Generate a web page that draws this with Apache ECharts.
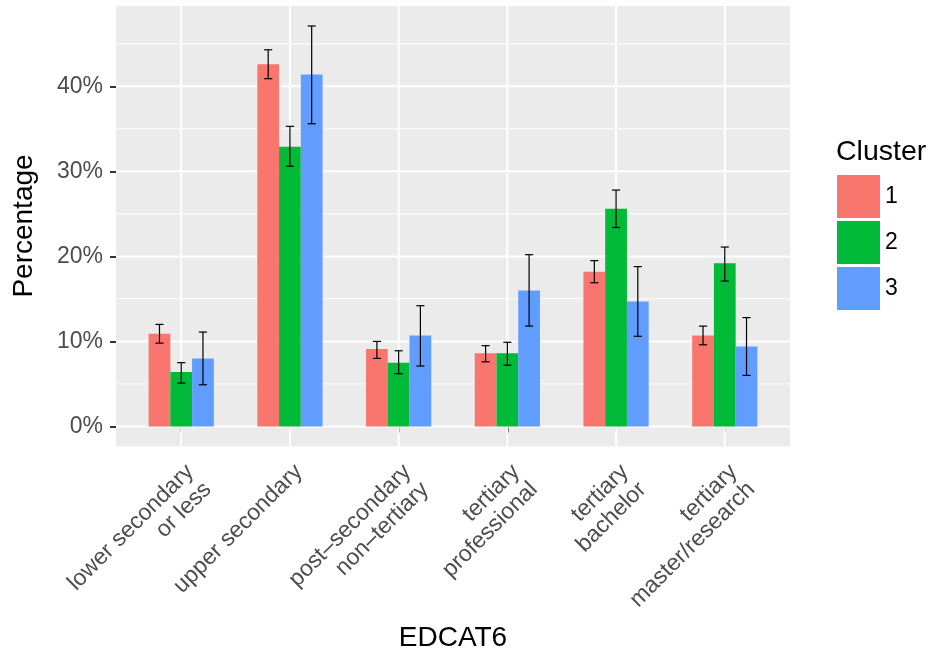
<!DOCTYPE html>
<html>
<head>
<meta charset="utf-8">
<script src="https://cdn.jsdelivr.net/npm/echarts@6/dist/echarts.min.js"></script>
<style>
html,body{margin:0;padding:0;background:#fff;}
#chart{width:930px;height:653px;}
</style>
</head>
<body>
<div id="chart"></div>
<script>
// ---- data ----
const categories = ['lower secondary\nor less', 'upper secondary', 'post\u2013secondary\nnon\u2013tertiary', 'tertiary\nprofessional', 'tertiary\nbachelor', 'tertiary\nmaster/research'];
const clusterNames = ['1', '2', '3'];
const cluster1 = [10.9, 42.6, 9.1, 8.6, 18.2, 10.7];
const cluster1Low = [9.8, 40.9, 8.0, 7.6, 16.9, 9.6];
const cluster1High = [12.0, 44.3, 10.0, 9.5, 19.5, 11.8];
const cluster2 = [6.4, 32.9, 7.5, 8.6, 25.6, 19.2];
const cluster2Low = [5.1, 30.6, 6.2, 7.2, 23.4, 17.1];
const cluster2High = [7.5, 35.3, 8.9, 9.9, 27.8, 21.1];
const cluster3 = [8.0, 41.4, 10.7, 16.0, 14.7, 9.4];
const cluster3Low = [4.9, 35.6, 7.1, 11.8, 10.6, 6.0];
const cluster3High = [11.1, 47.1, 14.2, 20.2, 18.8, 12.8];
const yTicks = [0, 10, 20, 30, 40];
const yMinorTicks = [5, 15, 25, 35, 45];
const xTicks = [1, 2, 3, 4, 5, 6];

// ---- styling ----
const colors = ['#F8766D', '#00BA38', '#619CFF'];
const FONT = "'Liberation Sans', Arial, Helvetica, sans-serif";
const BAR_W = 0.2;
const CAP_W = 0.075;

const chart = echarts.init(document.getElementById('chart'), null, {renderer: 'canvas'});

const values = [cluster1, cluster2, cluster3];
const lows = [cluster1Low, cluster2Low, cluster3Low];
const highs = [cluster1High, cluster2High, cluster3High];

function hLineSeries(vals, width) {
  return {
    type: 'custom', silent: true, z: 1,
    data: vals.map(v => [1, v]),
    renderItem: function (params, api) {
      const cs = params.coordSys;
      const y = api.coord([1, api.value(1)])[1];
      return {type: 'line', shape: {x1: cs.x, y1: y, x2: cs.x + cs.width, y2: y},
        style: {stroke: '#FFFFFF', lineWidth: width}};
    }
  };
}
function vLineSeries(vals, width) {
  return {
    type: 'custom', silent: true, z: 1,
    data: vals.map(v => [v, 0]),
    renderItem: function (params, api) {
      const cs = params.coordSys;
      const x = api.coord([api.value(0), 0])[0];
      return {type: 'line', shape: {x1: x, y1: cs.y, x2: x, y2: cs.y + cs.height},
        style: {stroke: '#FFFFFF', lineWidth: width}};
    }
  };
}

const barSeries = clusterNames.map((name, k) => ({
  name: name,
  type: 'custom',
  z: 3,
  itemStyle: {color: colors[k]},
  data: categories.map((c, i) => [i + 1, values[k][i], lows[k][i], highs[k][i]]),
  renderItem: function (params, api) {
    const xc = api.value(0) + (k - 1) * BAR_W;
    const v = api.value(1);
    const p0 = api.coord([xc - BAR_W / 2, v]);
    const p1 = api.coord([xc + BAR_W / 2, 0]);
    const top = api.coord([xc, api.value(3)]);
    const bot = api.coord([xc, api.value(2)]);
    const capL = api.coord([xc - CAP_W / 2, 0])[0];
    const capR = api.coord([xc + CAP_W / 2, 0])[0];
    return {
      type: 'group',
      children: [
        {type: 'rect', shape: {x: p0[0], y: p0[1], width: p1[0] - p0[0], height: p1[1] - p0[1]},
          style: {fill: colors[k]}},
        {type: 'line', shape: {x1: top[0], y1: top[1], x2: bot[0], y2: bot[1]}, style: {stroke: '#000', lineWidth: 1.2}},
        {type: 'line', shape: {x1: capL, y1: top[1], x2: capR, y2: top[1]}, style: {stroke: '#000', lineWidth: 1.2}},
        {type: 'line', shape: {x1: capL, y1: bot[1], x2: capR, y2: bot[1]}, style: {stroke: '#000', lineWidth: 1.2}}
      ]
    };
  }
}));

const option = {
  animation: false,
  backgroundColor: '#FFFFFF',
  grid: {left: 116, right: 140, top: 6, bottom: 206.5, show: true, backgroundColor: '#EBEBEB', borderWidth: 0},
  xAxis: {
    type: 'value', min: 0.4, max: 6.6,
    axisLine: {show: false},
    splitLine: {show: false},
    axisTick: {show: true, customValues: xTicks, length: 6, lineStyle: {color: '#333333', width: 2}},
    axisLabel: {
      customValues: xTicks,
      formatter: function (v) { return categories[Math.round(v) - 1]; },
      rotate: 45, align: 'right', verticalAlign: 'top',
      fontSize: 23, lineHeight: 25, color: '#4D4D4D', fontFamily: FONT, margin: 13
    }
  },
  yAxis: {
    type: 'value', min: -2.36, max: 49.45,
    axisLine: {show: false},
    splitLine: {show: false},
    axisTick: {show: true, customValues: yTicks, length: 6, lineStyle: {color: '#333333', width: 2}},
    axisLabel: {
      customValues: yTicks,
      formatter: function (v) { return v + '%'; },
      fontSize: 23, color: '#4D4D4D', fontFamily: FONT, margin: 13
    }
  },
  legend: {
    data: clusterNames,
    orient: 'vertical',
    left: 837, top: 175, padding: 0,
    itemWidth: 43, itemHeight: 43, itemGap: 3,
    icon: 'rect',
    textStyle: {fontSize: 23, color: '#000000', fontFamily: FONT}
  },
  graphic: [
    {type: 'text', x: 24, y: 226, rotation: Math.PI / 2,
      style: {text: 'Percentage', fontSize: 28, fontFamily: FONT, fill: '#000', textAlign: 'center', textVerticalAlign: 'middle'}},
    {type: 'text', x: 453, y: 638,
      style: {text: 'EDCAT6', fontSize: 28, fontFamily: FONT, fill: '#000', textAlign: 'center', textVerticalAlign: 'middle'}},
    {type: 'text', x: 836, y: 152,
      style: {text: 'Cluster', fontSize: 28.5, fontFamily: FONT, fill: '#000', textAlign: 'left', textVerticalAlign: 'middle'}}
  ],
  series: [
    hLineSeries(yMinorTicks, 1),
    hLineSeries(yTicks, 2),
    vLineSeries(xTicks, 2)
  ].concat(barSeries)
};
chart.setOption(option);
</script>
</body>
</html>
